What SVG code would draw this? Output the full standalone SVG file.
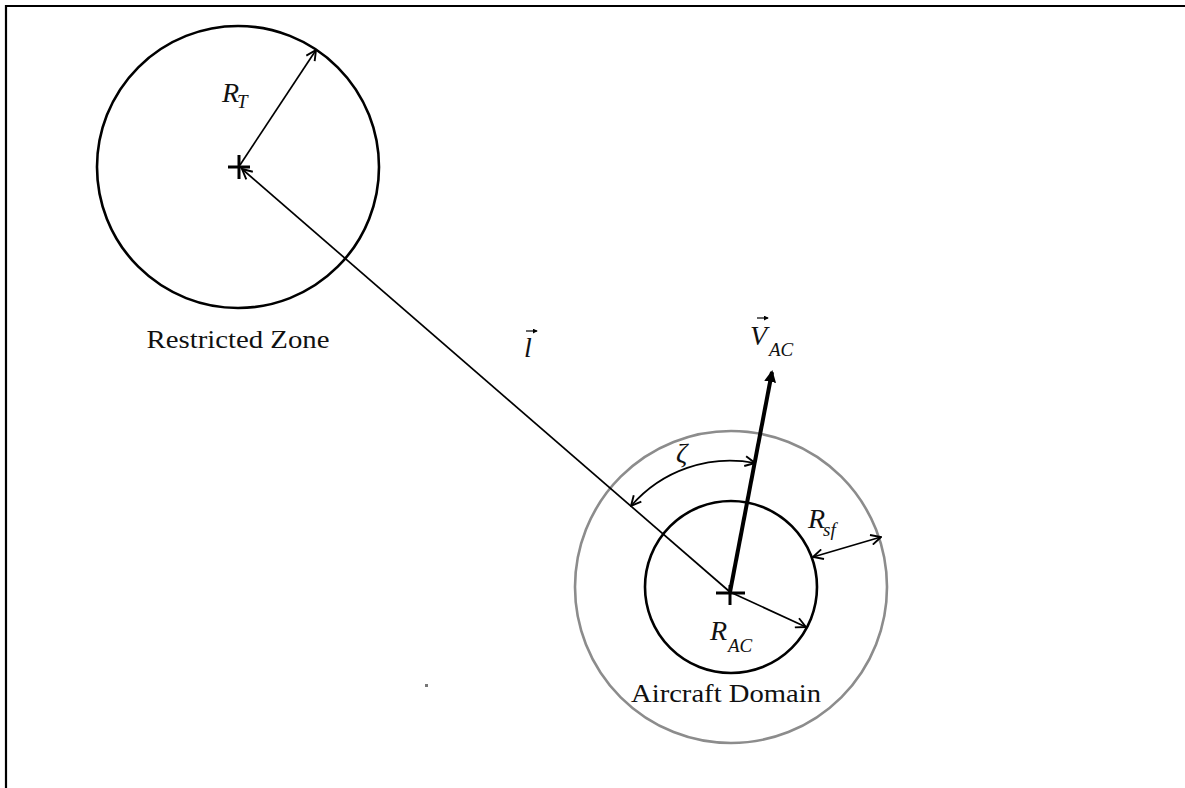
<svg xmlns="http://www.w3.org/2000/svg" width="1185" height="788" viewBox="0 0 1185 788">
<style>
.frame{stroke:#000;stroke-width:2.2;fill:none}
.circ{fill:none;stroke:#000;stroke-width:2.6}
.outer{fill:none;stroke:#8c8c8c;stroke-width:2.6}
.thin{stroke:#000;stroke-width:1.7;fill:none}
.thick{stroke:#000;stroke-width:4;fill:none}
.cross{stroke:#000;stroke-width:3}
.lbl{font-family:"Liberation Serif","Times New Roman",serif;font-size:25px;fill:#111}
.math{font-family:"Liberation Serif","Times New Roman",serif;font-style:italic;font-size:28px;fill:#111}
.sub{font-family:"Liberation Serif","Times New Roman",serif;font-style:italic;font-size:19px;fill:#111}
.vec{stroke:#000;stroke-width:1.2;fill:none}
</style>
<defs>
<marker id="open" viewBox="0 0 12 12" refX="11" refY="6" markerWidth="12" markerHeight="12" markerUnits="userSpaceOnUse" orient="auto-start-reverse">
<path d="M1 1 L11 6 L1 11" fill="none" stroke="#000" stroke-width="1.9"/>
</marker>
<marker id="solid" viewBox="0 0 12 12" refX="10" refY="6" markerWidth="12" markerHeight="12" markerUnits="userSpaceOnUse" orient="auto">
<path d="M0 0 L12 6 L0 12 Z" fill="#000"/>
</marker>
<marker id="tiny" viewBox="0 0 6 6" refX="5" refY="3" markerWidth="5" markerHeight="5" markerUnits="userSpaceOnUse" orient="auto">
<path d="M0 0 L6 3 L0 6 Z" fill="#000"/>
</marker>
</defs>
<rect width="1185" height="788" fill="#fff"/>
<path class="frame" d="M6 788 V6 H1185"/>

<g id="restricted-zone">
<circle class="circ" cx="238" cy="167" r="141"/>
<line class="cross" x1="228" y1="167" x2="250" y2="167"/>
<line class="cross" x1="239" y1="155" x2="239" y2="179"/>
<text class="lbl" x="238" y="348" text-anchor="middle" textLength="183" lengthAdjust="spacingAndGlyphs">Restricted Zone</text>
</g>

<g id="aircraft-domain">
<circle class="outer" cx="731" cy="587" r="156"/>
<circle class="circ" cx="731" cy="587" r="86"/>
<line class="cross" x1="716" y1="593" x2="745" y2="593"/>
<line class="cross" x1="730" y1="585" x2="730" y2="605"/>
<text class="lbl" x="726" y="702" text-anchor="middle" textLength="190" lengthAdjust="spacingAndGlyphs">Aircraft Domain</text>
</g>

<g id="connectors">
<line class="thin" x1="240" y1="165" x2="316" y2="50" marker-end="url(#open)"/>
<line class="thin" x1="730" y1="592" x2="242" y2="169" marker-end="url(#open)"/>
<line class="thin" x1="730" y1="592" x2="806" y2="627" marker-end="url(#open)"/>
<line class="thin" x1="813" y1="557" x2="881" y2="537" marker-start="url(#open)" marker-end="url(#open)"/>
<path class="thin" d="M631 506 A131 131 0 0 1 755 463" stroke-width="2.2" marker-start="url(#open)" marker-end="url(#open)"/>
<line class="thick" x1="730" y1="592" x2="772" y2="372" marker-end="url(#solid)"/>
<rect x="425" y="684" width="3" height="3" fill="#777"/>
</g>

<g id="labels">
<text class="math" x="222" y="102">R</text>
<text class="sub" x="237" y="108">T</text>

<text class="math" x="524" y="357">l</text>
<line class="vec" x1="526" y1="331" x2="537" y2="331" marker-end="url(#tiny)"/>

<text class="math" x="750" y="345">V</text>
<text class="sub" x="769" y="356">AC</text>
<line class="vec" x1="757" y1="318" x2="768" y2="318" marker-end="url(#tiny)"/>

<text class="math" x="676" y="462">ζ</text>

<text class="math" x="808" y="528">R</text>
<text class="sub" x="823" y="536">sf</text>

<text class="math" x="710" y="640">R</text>
<text class="sub" x="728" y="652">AC</text>
</g>
</svg>
